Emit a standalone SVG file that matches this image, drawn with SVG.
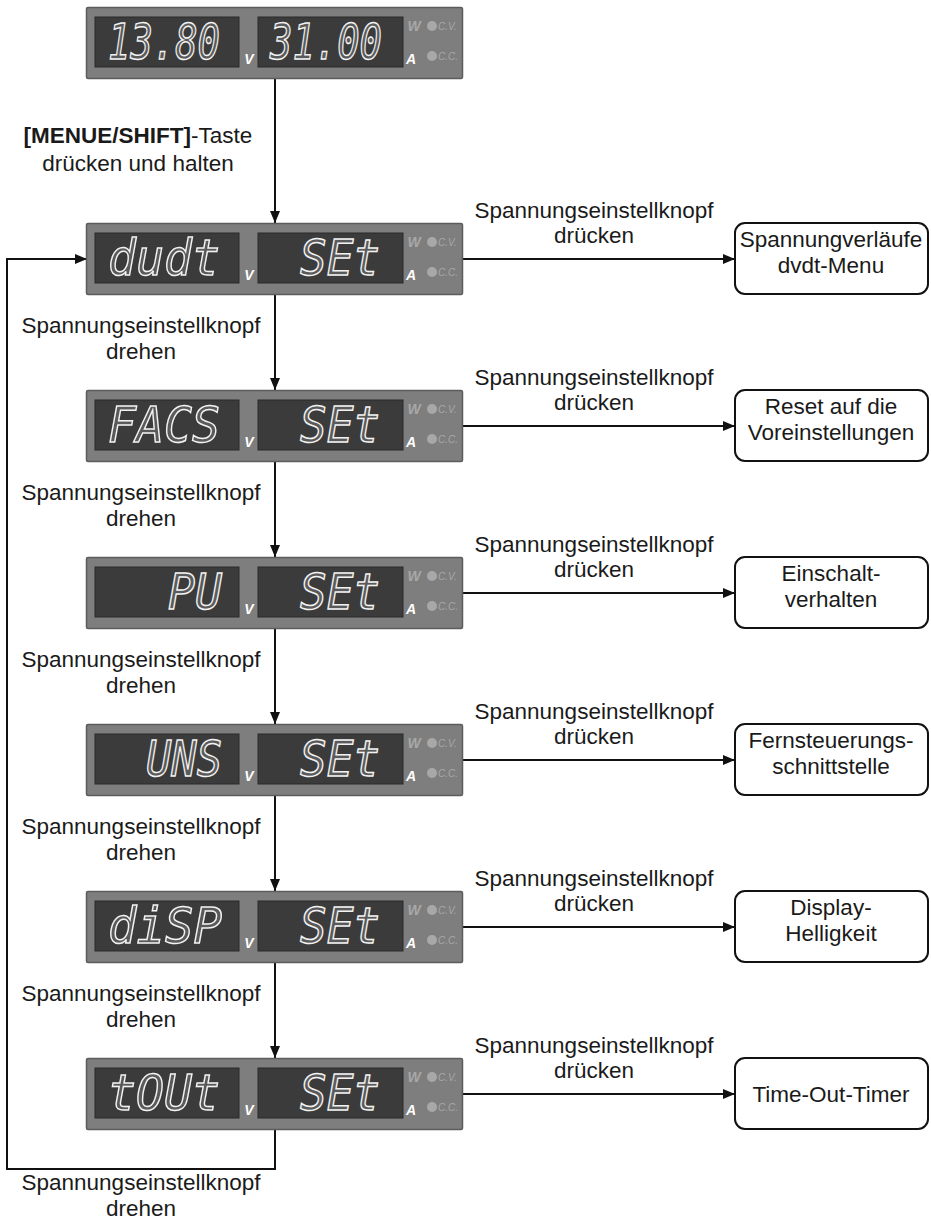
<svg xmlns="http://www.w3.org/2000/svg" xmlns:xlink="http://www.w3.org/1999/xlink" width="931" height="1224" viewBox="0 0 931 1224">
<style>
.lbl{font-family:"Liberation Sans",Arial,sans-serif;font-size:22.5px;fill:#1a1a1a;text-anchor:middle}
.bold{font-weight:bold}
.seg{font-family:"DejaVu Sans Mono",monospace;font-size:50px;font-style:italic;fill:#5a5a5a;stroke:#f2f2f2;stroke-width:1.5}
.unit{font-family:"Liberation Sans",Arial,sans-serif;font-size:14px;font-weight:bold;font-style:italic;fill:#ffffff;text-anchor:middle}
.dim{fill:#a8a8a8}
.small{font-family:"Liberation Sans",Arial,sans-serif;font-size:10px;font-style:italic;fill:#a8a8a8}
.conn{fill:none;stroke:#111;stroke-width:2}
.box{fill:#fff;stroke:#111;stroke-width:2}
</style>
<defs>
<marker id="arr" markerUnits="userSpaceOnUse" markerWidth="13" markerHeight="11" refX="12" refY="5" orient="auto">
<path d="M0,0 L12,5 L0,10 z" fill="#111"/>
</marker>
<g id="panel">
<rect x="86.5" y="0.5" width="376" height="71" rx="1.5" fill="#7e7e7e" stroke="#5c5c5c" stroke-width="1.5"/>
<rect x="95" y="10" width="144" height="50" fill="#3b3b3b" stroke="#2a2a2a" stroke-width="1"/>
<rect x="258" y="10" width="145" height="50" fill="#3b3b3b" stroke="#2a2a2a" stroke-width="1"/>
<text class="unit" x="249" y="57">V</text>
<text class="unit" x="411" y="57">A</text>
<text class="unit dim" x="414" y="24">W</text>
<circle class="dim" cx="432" cy="19" r="5"/>
<text class="small" x="438" y="23">C.V.</text>
<circle class="dim" cx="432" cy="49" r="5"/>
<text class="small" x="438" y="53">C.C.</text>
</g>
</defs>
<rect width="931" height="1224" fill="#fff"/>

<g id="connectors">
<line class="conn" x1="275" y1="79" x2="275" y2="223" marker-end="url(#arr)"/>
<line class="conn" x1="275" y1="295" x2="275" y2="390" marker-end="url(#arr)"/>
<line class="conn" x1="275" y1="462" x2="275" y2="557" marker-end="url(#arr)"/>
<line class="conn" x1="275" y1="629" x2="275" y2="724" marker-end="url(#arr)"/>
<line class="conn" x1="275" y1="796" x2="275" y2="891" marker-end="url(#arr)"/>
<line class="conn" x1="275" y1="963" x2="275" y2="1058" marker-end="url(#arr)"/>
<path class="conn" d="M275,1130 V1169 H7 V259 H87" marker-end="url(#arr)"/>
<line class="conn" x1="463" y1="259" x2="735" y2="259" marker-end="url(#arr)"/>
<line class="conn" x1="463" y1="426" x2="735" y2="426" marker-end="url(#arr)"/>
<line class="conn" x1="463" y1="593" x2="735" y2="593" marker-end="url(#arr)"/>
<line class="conn" x1="463" y1="760" x2="735" y2="760" marker-end="url(#arr)"/>
<line class="conn" x1="463" y1="927" x2="735" y2="927" marker-end="url(#arr)"/>
<line class="conn" x1="463" y1="1094" x2="735" y2="1094" marker-end="url(#arr)"/>
</g>

<g id="labels">
<text class="lbl" x="138" y="143"><tspan class="bold">[MENUE/SHIFT]</tspan>-Taste</text>
<text class="lbl" x="138" y="171">drücken und halten</text>

<text class="lbl" x="594" y="218">Spannungseinstellknopf</text>
<text class="lbl" x="594" y="243">drücken</text>
<text class="lbl" x="594" y="385">Spannungseinstellknopf</text>
<text class="lbl" x="594" y="410">drücken</text>
<text class="lbl" x="594" y="552">Spannungseinstellknopf</text>
<text class="lbl" x="594" y="577">drücken</text>
<text class="lbl" x="594" y="719">Spannungseinstellknopf</text>
<text class="lbl" x="594" y="744">drücken</text>
<text class="lbl" x="594" y="886">Spannungseinstellknopf</text>
<text class="lbl" x="594" y="911">drücken</text>
<text class="lbl" x="594" y="1053">Spannungseinstellknopf</text>
<text class="lbl" x="594" y="1078">drücken</text>

<text class="lbl" x="141" y="333">Spannungseinstellknopf</text>
<text class="lbl" x="141" y="359">drehen</text>
<text class="lbl" x="141" y="500">Spannungseinstellknopf</text>
<text class="lbl" x="141" y="526">drehen</text>
<text class="lbl" x="141" y="667">Spannungseinstellknopf</text>
<text class="lbl" x="141" y="693">drehen</text>
<text class="lbl" x="141" y="834">Spannungseinstellknopf</text>
<text class="lbl" x="141" y="860">drehen</text>
<text class="lbl" x="141" y="1001">Spannungseinstellknopf</text>
<text class="lbl" x="141" y="1027">drehen</text>
<text class="lbl" x="141" y="1190">Spannungseinstellknopf</text>
<text class="lbl" x="141" y="1216">drehen</text>
</g>

<g id="display-start" transform="translate(0,7)">
<use xlink:href="#panel" href="#panel"/>
<text class="seg" x="108" y="52" textLength="112" lengthAdjust="spacingAndGlyphs">13.80</text>
<text class="seg" x="270" y="52" textLength="112" lengthAdjust="spacingAndGlyphs">31.00</text>
</g>
<g id="display-dudt" transform="translate(0,223)">
<use xlink:href="#panel" href="#panel"/>
<text class="seg" x="108" y="52" textLength="112" lengthAdjust="spacingAndGlyphs">dudt</text>
<text class="seg" x="300" y="52" textLength="80" lengthAdjust="spacingAndGlyphs">SEt</text>
</g>
<g id="display-facs" transform="translate(0,390)">
<use xlink:href="#panel" href="#panel"/>
<text class="seg" x="108" y="52" textLength="112" lengthAdjust="spacingAndGlyphs">FACS</text>
<text class="seg" x="300" y="52" textLength="80" lengthAdjust="spacingAndGlyphs">SEt</text>
</g>
<g id="display-pu" transform="translate(0,557)">
<use xlink:href="#panel" href="#panel"/>
<text class="seg" x="168" y="52" textLength="54" lengthAdjust="spacingAndGlyphs">PU</text>
<text class="seg" x="300" y="52" textLength="80" lengthAdjust="spacingAndGlyphs">SEt</text>
</g>
<g id="display-uns" transform="translate(0,724)">
<use xlink:href="#panel" href="#panel"/>
<text class="seg" x="146" y="52" textLength="76" lengthAdjust="spacingAndGlyphs">UNS</text>
<text class="seg" x="300" y="52" textLength="80" lengthAdjust="spacingAndGlyphs">SEt</text>
</g>
<g id="display-disp" transform="translate(0,891)">
<use xlink:href="#panel" href="#panel"/>
<text class="seg" x="108" y="52" textLength="114" lengthAdjust="spacingAndGlyphs">diSP</text>
<text class="seg" x="300" y="52" textLength="80" lengthAdjust="spacingAndGlyphs">SEt</text>
</g>
<g id="display-tout" transform="translate(0,1058)">
<use xlink:href="#panel" href="#panel"/>
<text class="seg" x="108" y="52" textLength="112" lengthAdjust="spacingAndGlyphs">tOUt</text>
<text class="seg" x="300" y="52" textLength="80" lengthAdjust="spacingAndGlyphs">SEt</text>
</g>

<g id="box-dvdt">
<rect class="box" x="735" y="223" width="193" height="71" rx="10"/>
<text class="lbl" x="831" y="247">Spannungverläufe</text>
<text class="lbl" x="831" y="273">dvdt-Menu</text>
</g>
<g id="box-reset">
<rect class="box" x="735" y="390" width="193" height="71" rx="10"/>
<text class="lbl" x="831" y="414">Reset auf die</text>
<text class="lbl" x="831" y="440">Voreinstellungen</text>
</g>
<g id="box-einschalt">
<rect class="box" x="735" y="557" width="193" height="71" rx="10"/>
<text class="lbl" x="831" y="581">Einschalt-</text>
<text class="lbl" x="831" y="607">verhalten</text>
</g>
<g id="box-fern">
<rect class="box" x="735" y="724" width="193" height="71" rx="10"/>
<text class="lbl" x="831" y="748">Fernsteuerungs-</text>
<text class="lbl" x="831" y="774">schnittstelle</text>
</g>
<g id="box-display">
<rect class="box" x="735" y="891" width="193" height="71" rx="10"/>
<text class="lbl" x="831" y="915">Display-</text>
<text class="lbl" x="831" y="941">Helligkeit</text>
</g>
<g id="box-timeout">
<rect class="box" x="735" y="1058" width="193" height="71" rx="10"/>
<text class="lbl" x="831" y="1102">Time-Out-Timer</text>
</g>
</svg>
